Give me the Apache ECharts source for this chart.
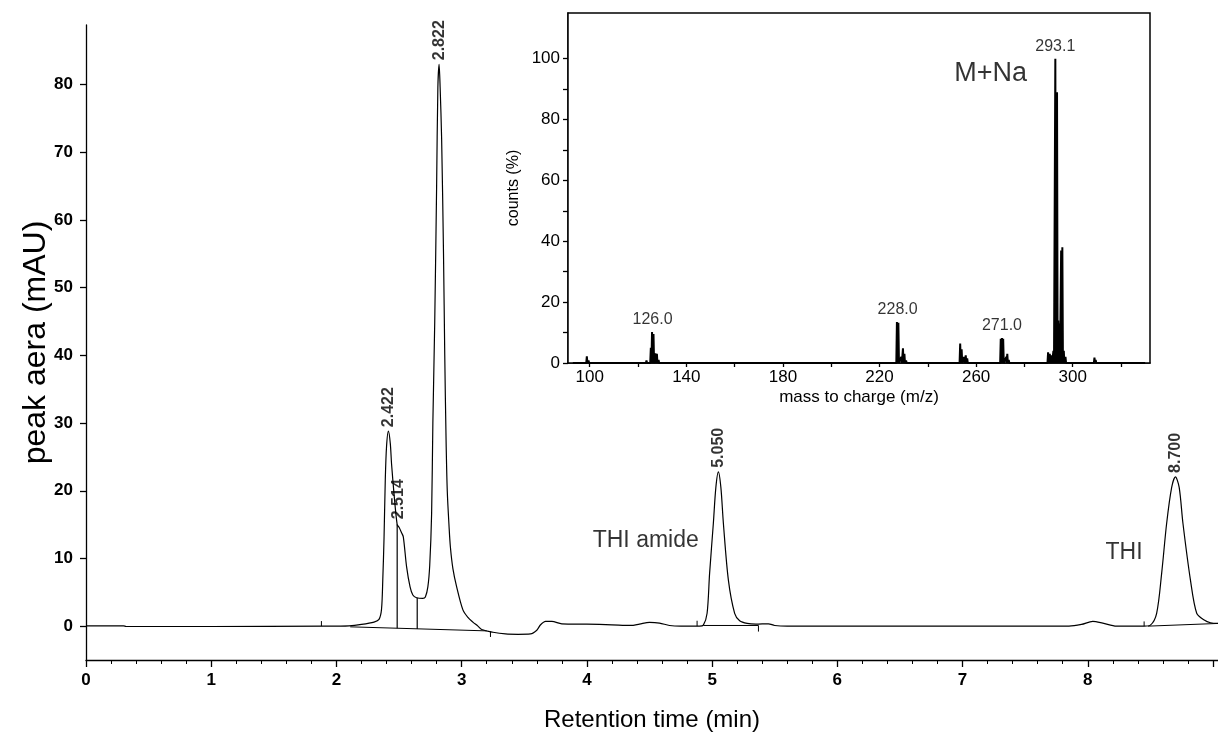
<!DOCTYPE html>
<html>
<head>
<meta charset="utf-8">
<script src="https://cdn.jsdelivr.net/npm/echarts@6/dist/echarts.min.js"></script>
<style>
html,body{margin:0;padding:0;background:#fff;}
#c{width:1218px;height:733px;}
</style>
</head>
<body>
<div id="c"></div>
<script>
// ---------- main chromatogram ----------
const chromTime = [0.00,0.30,0.32,1.00,1.90,2.10,2.20,2.30,2.34,2.36,2.37,2.38,2.39,2.40,2.415,2.43,2.44,2.46,2.485,2.50,2.52,2.534,2.56,2.588,2.61,2.64,2.69,2.71,2.73,2.745,2.76,2.77,2.785,2.80,2.81,2.82,2.828,2.84,2.855,2.865,2.875,2.885,2.90,2.91,2.93,2.96,3.01,3.05,3.09,3.13,3.16,3.25,3.35,3.45,3.55,3.60,3.63,3.67,3.72,3.80,4.00,4.20,4.35,4.42,4.50,4.58,4.66,4.75,4.90,4.93,4.96,4.98,5.01,5.03,5.05,5.07,5.09,5.13,5.18,5.22,5.28,5.35,5.45,5.50,5.60,7.85,7.95,8.04,8.12,8.23,8.45,8.50,8.55,8.59,8.63,8.67,8.70,8.73,8.76,8.82,8.87,8.93,8.98,9.04];
const chromValue = [0.05,0.05,-0.05,-0.05,0.0,0.05,0.25,0.6,1.0,2.5,6.8,13,21.6,26.5,28.8,27,24,19.5,15.0,14.6,13.8,13.2,8.8,5.8,4.6,4.2,4.1,4.3,5.8,9,16.6,30,45,65,79.6,83.0,79.6,72,55,40,28,20,14.5,11.7,8.5,5.8,2.4,1.3,0.6,0.0,-0.5,-0.9,-1.15,-1.2,-1.15,-0.6,0.2,0.7,0.7,0.35,0.3,0.2,0.1,0.3,0.55,0.45,0.1,0.0,0.0,0.15,1.9,7.8,15.2,20.5,22.8,20.5,15.2,6.8,1.9,0.8,0.4,0.3,0.35,0.1,0.0,0.0,0.25,0.7,0.45,0.0,0.0,0.15,1.9,7.8,15.2,20.5,22.05,20.5,15.2,6.8,1.9,0.9,0.5,0.4];

// integration annotations (pairs of [time, value] endpoints)
const baselineSegments = [[[2.11,-0.1],[3.2,-0.7]],[[4.93,0.1],[5.37,0.1]],[[8.48,0.0],[9.04,0.4]]];
const dropLines = [[[2.485,15.0],[2.485,-0.32]],[[2.645,4.2],[2.645,-0.42]]];
const markerTicks = [[[1.88,0],[1.88,0.75]],[[3.23,-0.75],[3.23,-1.6]],[[4.88,0],[4.88,0.8]],[[5.37,0.1],[5.37,-0.8]],[[8.45,0],[8.45,0.7]]];

// peak labels
const peakLabels = ['2.422','2.514','2.822','5.050','8.700'];
const peakTime = [2.415,2.50,2.82,5.05,8.70];
const peakValue = [28.8,15.2,83.0,22.8,22.05];

// compound names
const compoundNames = ['THI amide','THI'];
const compoundTime = [4.47,8.29];
const compoundValue = [12.6,10.8];

// main axes ticks
const xLabelValues = [0,1,2,3,4,5,6,7,8];
const xMajorTicks = [0,1,2,3,4,5,6,7,8,9];
const yLabelValues = [0,10,20,30,40,50,60,70,80];

// ---------- inset mass spectrum ----------
const msMz = [98.8,99.5,100.5,102,104,107,123.5,125.3,125.8,126.4,127.2,127.8,128.5,141,155,157,227.2,227.8,229,229.7,230.3,231,253.4,254,255,255.7,256.3,266,268,270.2,270.7,271.2,272.5,272.9,273.5,280,281,289.8,290.5,291.2,292,292.8,293.5,294,294.5,295.2,295.7,296.3,297,309,309.5,310.5,316];
const msCounts = [2.2,0.8,0.5,0.4,0.3,0.3,0.8,5,10.2,9.5,3.2,3.0,1.0,0.6,0.3,0.3,13.5,13.2,2,4.8,3,0.8,6.4,4.5,2,2.5,1.5,0.3,0.3,8.0,8.2,8.0,2,3,1,0.5,0.6,3.5,3.0,2.5,4,100,89,14,13,37,38,4,2,1.8,1.0,0.6,0.4];
const msRange = [93,330];
const msLabels = ['126.0','228.0','271.0','293.1'];
const msLabelMz = [126,227.5,270.7,292.8];
const msLabelCounts = [10.2,13.5,8.2,100];
const msXLabels = [100,140,180,220,260,300];
const msXTicks = [100,120,140,160,180,200,220,240,260,280,300,320];
const msYLabels = [0,20,40,60,80,100];
const msYTicks = [0,10,20,30,40,50,60,70,80,90,100];

// ---------- build ----------
const FONT = "'Liberation Sans', Arial, sans-serif";
const chromData = chromTime.map((t,i)=>[t,chromValue[i]]);
function segs(list){ const out=[]; list.forEach((s,i)=>{ if(i) out.push(['-','-']); s.forEach(p=>out.push(p)); }); return out; }

const msData = [[msRange[0],0]];
msMz.forEach((m,i)=>{ msData.push([m-0.25,0]); msData.push([m,msCounts[i]]); msData.push([m+0.25,0]); });
msData.push([msRange[1],0]);
msData.sort((a,b)=>a[0]-b[0]);

const xMinor=[]; for(let k=0;k<=45;k++){ const v=+(k*0.2).toFixed(2); if(v<=9.04) xMinor.push(v); }
const yMinor=[]; for(let v=-4; v<=88; v+=2) yMinor.push(v);

const chart = echarts.init(document.getElementById('c'), null, {renderer:'canvas'});
chart.setOption({
  animation:false,
  backgroundColor:'#fff',
  textStyle:{fontFamily:FONT},
  grid:[
    {left:86, top:25, right:0, bottom:73, containLabel:false, outerBoundsMode:'none'},
    {left:568, top:13, width:582, height:350, show:true, borderColor:'#000', borderWidth:1.5, backgroundColor:'#fff', z:5, outerBoundsMode:'none'}
  ],
  xAxis:[
    {gridIndex:0, type:'value', min:0, max:9.04, position:'bottom',
     axisLine:{onZero:false, lineStyle:{color:'#000', width:1.3}},
     axisTick:{customValues:xMajorTicks, length:7, lineStyle:{color:'#000', width:1.3}},
     axisLabel:{customValues:xLabelValues, color:'#000', fontWeight:'bold', fontSize:17, margin:12, fontFamily:FONT},
     splitLine:{show:false},
     name:'Retention time (min)', nameLocation:'middle', nameGap:48,
     nameTextStyle:{color:'#000', fontSize:24, fontFamily:FONT}},
    {gridIndex:0, type:'value', min:0, max:9.04, position:'bottom',
     axisLine:{show:false, onZero:false},
     axisTick:{customValues:xMinor, length:4, lineStyle:{color:'#000', width:1}},
     axisLabel:{show:false}, splitLine:{show:false}},
    {gridIndex:1, type:'value', min:91, max:332, position:'bottom',
     axisLine:{onZero:false, lineStyle:{color:'#000', width:1.5}},
     axisTick:{customValues:msXTicks, length:4, lineStyle:{color:'#000', width:1.3}},
     axisLabel:{customValues:msXLabels, color:'#000', fontSize:17, margin:6, fontFamily:FONT},
     splitLine:{show:false},
     name:'mass to charge (m/z)', nameLocation:'middle', nameGap:26,
     nameTextStyle:{color:'#000', fontSize:17, fontFamily:FONT}}
  ],
  yAxis:[
    {gridIndex:0, type:'value', min:-5, max:88.8,
     axisLine:{show:true, onZero:false, lineStyle:{color:'#000', width:1.3}},
     axisTick:{show:true, customValues:yLabelValues, length:6, lineStyle:{color:'#000', width:1.3}},
     axisLabel:{customValues:yLabelValues, color:'#000', fontWeight:'bold', fontSize:17, margin:13, fontFamily:FONT},
     splitLine:{show:false},
     name:'peak aera (mAU)', nameLocation:'middle', nameGap:34, nameRotate:90, nameMoveOverlap:false,
     nameTextStyle:{color:'#000', fontSize:32, fontFamily:FONT}},
    {gridIndex:0, type:'value', min:-5, max:88.8,
     axisLine:{show:false, onZero:false},
     axisTick:{show:true, customValues:yMinor, length:4, lineStyle:{color:'#000', width:1}},
     axisLabel:{show:false}, splitLine:{show:false}},
    {gridIndex:1, type:'value', min:0, max:115,
     axisLine:{show:true, onZero:false, lineStyle:{color:'#000', width:1.5}},
     axisTick:{show:true, customValues:msYTicks, length:5, lineStyle:{color:'#000', width:1.3}},
     axisLabel:{customValues:msYLabels, color:'#000', fontSize:17, margin:8, fontFamily:FONT},
     splitLine:{show:false},
     name:'counts (%)', nameLocation:'middle', nameGap:46, nameRotate:90,
     nameTextStyle:{color:'#000', fontSize:16, fontFamily:FONT}}
  ],
  series:[
    {type:'line', xAxisIndex:0, yAxisIndex:0, data:chromData, showSymbol:false, symbol:'none', smooth:0.3,
     lineStyle:{color:'#000', width:1.2}, z:3},
    {type:'line', xAxisIndex:0, yAxisIndex:0, data:segs(baselineSegments), showSymbol:false, symbol:'none', connectNulls:false,
     lineStyle:{color:'#000', width:1}, z:2},
    {type:'line', xAxisIndex:0, yAxisIndex:0, data:segs(dropLines), showSymbol:false, symbol:'none', connectNulls:false,
     lineStyle:{color:'#000', width:1.2}, z:2},
    {type:'line', xAxisIndex:0, yAxisIndex:0, data:segs(markerTicks), showSymbol:false, symbol:'none', connectNulls:false,
     lineStyle:{color:'#000', width:1}, z:2},
    {type:'scatter', xAxisIndex:0, yAxisIndex:0, symbolSize:0, silent:true,
     data:peakTime.map((t,i)=>({value:[t,peakValue[i]], label:{formatter:peakLabels[i]}})),
     label:{show:true, rotate:90, position:[0,-4], align:'left', verticalAlign:'middle',
            color:'#000', fontWeight:'bold', fontSize:16, fontFamily:FONT}, z:4},
    {type:'scatter', xAxisIndex:0, yAxisIndex:0, symbolSize:0, silent:true,
     data:compoundTime.map((t,i)=>({value:[t,compoundValue[i]], label:{formatter:compoundNames[i]}})),
     label:{show:true, position:[0,0], align:'center', verticalAlign:'middle',
            color:'#000', fontSize:23, fontFamily:FONT}, z:4},
    {type:'line', xAxisIndex:2, yAxisIndex:2, data:msData, showSymbol:false, symbol:'none',
     lineStyle:{color:'#000', width:2}, z:6},
    {type:'scatter', xAxisIndex:2, yAxisIndex:2, symbolSize:0, silent:true,
     data:msLabelMz.map((m,i)=>({value:[m,msLabelCounts[i]], label:{formatter:msLabels[i]}})),
     label:{show:true, position:'top', distance:4, color:'#000', fontSize:16, fontFamily:FONT}, z:7},
    {type:'scatter', xAxisIndex:2, yAxisIndex:2, symbolSize:0, silent:true,
     data:[{value:[266,95], label:{formatter:'M+Na'}}],
     label:{show:true, position:[0,0], align:'center', verticalAlign:'middle', color:'#000', fontSize:27, fontFamily:FONT}, z:7}
  ]
});
</script>
</body>
</html>
